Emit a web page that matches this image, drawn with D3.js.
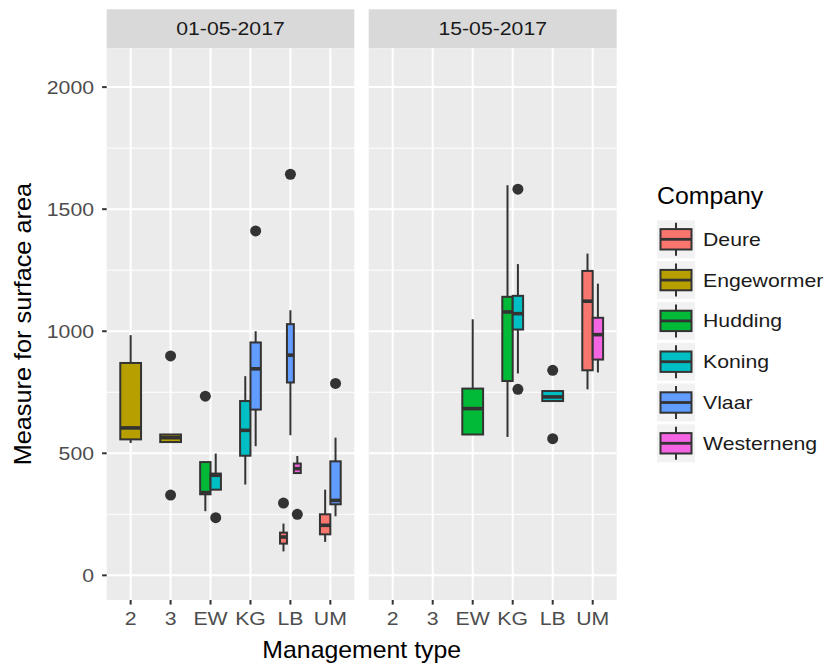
<!DOCTYPE html>
<html>
<head>
<meta charset="utf-8">
<script src="https://cdn.jsdelivr.net/npm/d3@7"></script>
<style>
  html, body { margin: 0; padding: 0; background: #fff; }
  svg { display: block; }
</style>
</head>
<body>
<svg id="chart" width="826" height="665"></svg>
<script>
// ---------- data ----------
const dates = ["01-05-2017", "15-05-2017"];
const types = ["2", "3", "EW", "KG", "LB", "UM"];
const companies = ["Deure", "Engewormer", "Hudding", "Koning", "Vlaar", "Westerneng"];
const yTicks = [0, 500, 1000, 1500, 2000];
const yMinor = [250, 750, 1250, 1750];

// box statistics (one entry per box)
const boxDate    = [0, 0, 0, 0, 0, 0, 0, 0, 0, 0, 0, 1, 1, 1, 1, 1, 1];
const boxType    = ["2", "3", "EW", "EW", "KG", "KG", "LB", "LB", "LB", "UM", "UM", "EW", "KG", "KG", "LB", "UM", "UM"];
const boxCompany = ["Engewormer", "Engewormer", "Hudding", "Koning", "Koning", "Vlaar", "Deure", "Vlaar", "Westerneng", "Deure", "Vlaar",
                    "Hudding", "Hudding", "Koning", "Koning", "Deure", "Westerneng"];
const whiskerLow  = [542, 546, 263, 351, 372, 529, 98, 574, 419, 137, 242, 577, 567, 827, 714, 762, 831];
const q1          = [557, 546, 332, 351, 490, 679, 130, 790, 419, 168, 291, 577, 796, 1007, 714, 840, 884];
const median      = [604, 564, 339, 410, 594, 846, 157, 902, 437, 205, 307, 683, 1079, 1072, 731, 1123, 986];
const q3          = [870, 577, 464, 417, 714, 954, 175, 1029, 458, 250, 467, 765, 1141, 1145, 755, 1247, 1055];
const whiskerHigh = [984, 577, 464, 499, 816, 1000, 212, 1086, 489, 351, 564, 1049, 1598, 1275, 755, 1318, 1195];

// outliers
const outDate    = [0, 0, 0, 0, 0, 0, 0, 0, 0, 1, 1, 1, 1];
const outType    = ["3", "3", "EW", "EW", "KG", "LB", "LB", "LB", "UM", "KG", "KG", "LB", "LB"];
const outCompany = ["Engewormer", "Engewormer", "Hudding", "Koning", "Vlaar", "Deure", "Vlaar", "Westerneng", "Vlaar", "Koning", "Koning", "Koning", "Koning"];
const outValue   = [899, 329, 734, 236, 1411, 296, 1643, 250, 786, 1582, 762, 840, 560];

// ---------- layout & style ----------
const palette = ["#F8766D", "#B79F00", "#00BA38", "#00BFC4", "#619CFF", "#F564E3"];
const FONT = "'Liberation Sans', Arial, Helvetica, sans-serif";
const panels = [{x0: 106.7, x1: 354.3}, {x0: 368.7, x1: 616.7}];
const stripTop = 9.3, panelTop = 48.3, panelBottom = 600;
const LW = 2, MED = 3.6, INK = "#333333";

const svg = d3.select("#chart");
const color = d3.scaleOrdinal().domain(companies).range(palette);
const y = d3.scaleLinear().domain([-101, 2159]).range([panelBottom, panelTop]);

function txt(g, x, yy, str, size, anchor, fill, sx, rot) {
  g.append("text")
    .attr("transform", `translate(${x},${yy})` + (rot ? ` rotate(${rot})` : "") + ` scale(${sx},1)`)
    .attr("text-anchor", anchor)
    .attr("font-family", FONT)
    .attr("font-size", size)
    .attr("fill", fill)
    .text(str);
}

const boxes = boxDate.map((d, i) => ({
  date: d, type: boxType[i], company: boxCompany[i],
  lo: whiskerLow[i], q1: q1[i], med: median[i], q3: q3[i], hi: whiskerHigh[i]
}));
const outs = outDate.map((d, i) => ({date: d, type: outType[i], company: outCompany[i], v: outValue[i]}));

dates.forEach((date, pi) => {
  const P = panels[pi];
  const x = d3.scalePoint().domain(types).range([P.x0, P.x1]).padding(0.6);
  const g = svg.append("g");

  // strip
  g.append("rect").attr("x", P.x0).attr("y", stripTop).attr("width", P.x1 - P.x0)
    .attr("height", panelTop - stripTop).attr("fill", "#D9D9D9");
  txt(g, (P.x0 + P.x1) / 2, 35.4, date, 18, "middle", "#1A1A1A", 1.18);

  // panel background
  g.append("rect").attr("x", P.x0).attr("y", panelTop).attr("width", P.x1 - P.x0)
    .attr("height", panelBottom - panelTop).attr("fill", "#EBEBEB");

  // grid
  yMinor.forEach(v => g.append("line").attr("x1", P.x0).attr("x2", P.x1)
    .attr("y1", y(v)).attr("y2", y(v)).attr("stroke", "#fff").attr("stroke-width", 1));
  yTicks.forEach(v => g.append("line").attr("x1", P.x0).attr("x2", P.x1)
    .attr("y1", y(v)).attr("y2", y(v)).attr("stroke", "#fff").attr("stroke-width", 2));
  types.forEach(t => g.append("line").attr("x1", x(t)).attr("x2", x(t))
    .attr("y1", panelTop).attr("y2", panelBottom).attr("stroke", "#fff").attr("stroke-width", 2));

  // x axis ticks + labels
  types.forEach(t => {
    g.append("line").attr("x1", x(t)).attr("x2", x(t)).attr("y1", panelBottom).attr("y2", panelBottom + 4.6)
      .attr("stroke", INK).attr("stroke-width", 2);
    txt(g, x(t), 625, t, 18, "middle", "#4D4D4D", 1.18);
  });

  // boxes, dodged within each type
  const totalW = 0.52 * x.step();
  types.forEach(t => {
    const grp = boxes.filter(b => b.date === pi && b.type === t)
      .sort((a, b) => companies.indexOf(a.company) - companies.indexOf(b.company));
    const n = grp.length;
    if (!n) return;
    const w = totalW / n;
    grp.forEach((b, k) => {
      const left = x(t) - totalW / 2 + k * w;
      const cx = left + w / 2;
      // outliers
      outs.filter(o => o.date === pi && o.type === t && o.company === b.company).forEach(o => {
        g.append("circle").attr("cx", cx).attr("cy", y(o.v)).attr("r", 5.5).attr("fill", INK);
      });
      // whiskers
      g.append("line").attr("x1", cx).attr("x2", cx).attr("y1", y(b.hi)).attr("y2", y(b.q3))
        .attr("stroke", INK).attr("stroke-width", LW);
      g.append("line").attr("x1", cx).attr("x2", cx).attr("y1", y(b.q1)).attr("y2", y(b.lo))
        .attr("stroke", INK).attr("stroke-width", LW);
      // box
      g.append("rect").attr("x", left).attr("y", y(b.q3)).attr("width", w)
        .attr("height", Math.max(0, y(b.q1) - y(b.q3)))
        .attr("fill", color(b.company)).attr("stroke", INK).attr("stroke-width", LW);
      // median
      g.append("line").attr("x1", left).attr("x2", left + w).attr("y1", y(b.med)).attr("y2", y(b.med))
        .attr("stroke", INK).attr("stroke-width", MED);
    });
  });
});

// y axis (left panel only)
const ya = svg.append("g");
yTicks.forEach(v => {
  ya.append("line").attr("x1", panels[0].x0 - 4.6).attr("x2", panels[0].x0)
    .attr("y1", y(v)).attr("y2", y(v)).attr("stroke", INK).attr("stroke-width", 2);
  txt(ya, 94, y(v) + 6.4, String(v), 18, "end", "#4D4D4D", 1.18);
});

// axis titles
txt(svg, (panels[0].x0 + panels[1].x1) / 2, 658, "Management type", 23, "middle", "#000", 1.08);
txt(svg, 30.5, (panelTop + panelBottom) / 2, "Measure for surface area", 23, "middle", "#000", 1.1, -90);

// legend
const lg = svg.append("g");
txt(lg, 657, 204, "Company", 23, "start", "#000", 1.08);
companies.forEach((c, i) => {
  const cy = 239.3 + i * 40.8;
  const kx = 657, kw = 38;
  lg.append("rect").attr("x", kx).attr("y", cy - 19).attr("width", kw).attr("height", 38).attr("fill", "#F2F2F2");
  lg.append("line").attr("x1", kx + kw / 2).attr("x2", kx + kw / 2).attr("y1", cy - 16.5).attr("y2", cy + 16.5)
    .attr("stroke", INK).attr("stroke-width", LW);
  lg.append("rect").attr("x", kx + 3.5).attr("y", cy - 10.2).attr("width", kw - 7).attr("height", 20.4)
    .attr("fill", color(c)).attr("stroke", INK).attr("stroke-width", LW);
  lg.append("line").attr("x1", kx + 3.5).attr("x2", kx + kw - 3.5).attr("y1", cy).attr("y2", cy)
    .attr("stroke", INK).attr("stroke-width", 2.8);
  txt(lg, 703, cy + 6.4, c, 18, "start", "#1A1A1A", 1.18);
});
</script>
</body>
</html>
